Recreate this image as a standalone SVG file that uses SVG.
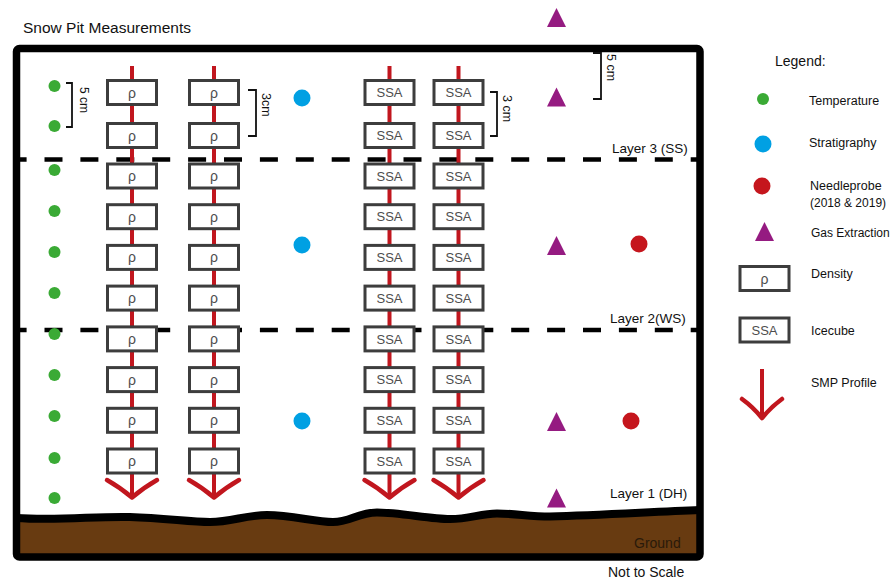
<svg xmlns="http://www.w3.org/2000/svg" width="894" height="580" viewBox="0 0 894 580">
<style>
text{font-family:"Liberation Sans",Arial,sans-serif;fill:#111}
.box{fill:#fff;stroke:#3d3d3d;stroke-width:3}
.bt{font-size:13px;fill:#4d4d4d;text-anchor:middle}
.rho{font-size:14px;fill:#4d4d4d;text-anchor:middle}
.smp{fill:none;stroke:#C1161E;stroke-width:4;stroke-linecap:butt;stroke-linejoin:round}
.arw{fill:none;stroke:#C1161E;stroke-width:4.5;stroke-linecap:round;stroke-linejoin:round}
.tmp{fill:#3AAA35}
.str{fill:#00A0E3}
.ndl{fill:#C5161D}
.gas{fill:#951B81}
.brk{fill:none;stroke:#111;stroke-width:1.8}
.dash{stroke:#000;stroke-width:4.5;stroke-dasharray:18 17.9;stroke-dashoffset:11.4}
.lbl{font-size:13.5px}
.leg{font-size:12.5px}
.cm{font-size:12px}
</style>
<defs>
<g id="rbox"><rect class="box" x="-24.5" y="-12" width="49" height="24"/><text class="rho" x="0" y="5">ρ</text></g>
<g id="sbox"><rect class="box" x="-24.5" y="-12" width="49" height="24"/><text class="bt" x="0" y="4.7">SSA</text></g>
<path id="tri" d="M0,0 L9.5,19 L-9.5,19 Z"/>
</defs>

<g id="ground">
<path fill="#683B11" d="M16,518 C60,521 95,516 130,517 C165,518 190,522 210,522 C232,522 245,515 267,515 C292,515 315,522 333,522 C350,522 358,512.5 377,512.5 C400,512.5 430,519 450,519 C470,519 480,513.5 497,513.5 C515,513.5 530,516.5 550,516.5 C600,515 650,512 700,510 L700,557 L16,557 Z"/>
<path fill="none" stroke="#000" stroke-width="8" d="M16,518 C60,521 95,516 130,517 C165,518 190,522 210,522 C232,522 245,515 267,515 C292,515 315,522 333,522 C350,522 358,512.5 377,512.5 C400,512.5 430,519 450,519 C470,519 480,513.5 497,513.5 C515,513.5 530,516.5 550,516.5 C600,515 650,512 700,510"/>
<text x="634" y="548" style="font-size:14px;fill:#2a1a0a">Ground</text>
</g>

<g id="frame">
<rect x="16.5" y="48.5" width="683.5" height="508.5" rx="3" fill="none" stroke="#000" stroke-width="7.5"/>
</g>

<g id="layers">
<line class="dash" x1="20" y1="159.5" x2="697" y2="159.5"/>
<line class="dash" x1="20" y1="330" x2="697" y2="330"/>
<text class="lbl" x="612" y="153">Layer 3 (SS)</text>
<text class="lbl" x="610" y="323">Layer 2(WS)</text>
<text class="lbl" x="610" y="498">Layer 1 (DH)</text>
</g>

<g id="connectors">
<line class="smp" x1="132" y1="66" x2="132" y2="496"/>
<line class="smp" x1="214" y1="66" x2="214" y2="496"/>
<line class="smp" x1="389.5" y1="66" x2="389.5" y2="496"/>
<line class="smp" x1="458.5" y1="66" x2="458.5" y2="496"/>
<path class="arw" d="M107,480 Q121,488 132,497.5 Q143,488 157,480"/>
<path class="arw" d="M189,480 Q203,488 214,497.5 Q225,488 239,480"/>
<path class="arw" d="M364.5,480 Q378.5,488 389.5,497.5 Q400.5,488 414.5,480"/>
<path class="arw" d="M433.5,480 Q447.5,488 458.5,497.5 Q469.5,488 483.5,480"/>
</g>

<g id="density-col1">
<use href="#rbox" x="132" y="92.5"/><use href="#rbox" x="132" y="135.5"/><use href="#rbox" x="132" y="176"/><use href="#rbox" x="132" y="216.7"/><use href="#rbox" x="132" y="257.4"/><use href="#rbox" x="132" y="298.1"/><use href="#rbox" x="132" y="338.9"/><use href="#rbox" x="132" y="379.6"/><use href="#rbox" x="132" y="420.3"/><use href="#rbox" x="132" y="461"/>
</g>
<g id="density-col2">
<use href="#rbox" x="214" y="92.5"/><use href="#rbox" x="214" y="135.5"/><use href="#rbox" x="214" y="176"/><use href="#rbox" x="214" y="216.7"/><use href="#rbox" x="214" y="257.4"/><use href="#rbox" x="214" y="298.1"/><use href="#rbox" x="214" y="338.9"/><use href="#rbox" x="214" y="379.6"/><use href="#rbox" x="214" y="420.3"/><use href="#rbox" x="214" y="461"/>
</g>
<g id="ssa-col1">
<use href="#sbox" x="389.5" y="92.5"/><use href="#sbox" x="389.5" y="135.5"/><use href="#sbox" x="389.5" y="176"/><use href="#sbox" x="389.5" y="216.7"/><use href="#sbox" x="389.5" y="257.4"/><use href="#sbox" x="389.5" y="298.1"/><use href="#sbox" x="389.5" y="338.9"/><use href="#sbox" x="389.5" y="379.6"/><use href="#sbox" x="389.5" y="420.3"/><use href="#sbox" x="389.5" y="461"/>
</g>
<g id="ssa-col2">
<use href="#sbox" x="458.5" y="92.5"/><use href="#sbox" x="458.5" y="135.5"/><use href="#sbox" x="458.5" y="176"/><use href="#sbox" x="458.5" y="216.7"/><use href="#sbox" x="458.5" y="257.4"/><use href="#sbox" x="458.5" y="298.1"/><use href="#sbox" x="458.5" y="338.9"/><use href="#sbox" x="458.5" y="379.6"/><use href="#sbox" x="458.5" y="420.3"/><use href="#sbox" x="458.5" y="461"/>
</g>

<g id="temperature">
<circle class="tmp" cx="54.5" cy="86" r="6"/><circle class="tmp" cx="54.5" cy="126" r="6"/><circle class="tmp" cx="54.5" cy="170" r="6"/><circle class="tmp" cx="54.5" cy="211" r="6"/><circle class="tmp" cx="54.5" cy="252" r="6"/><circle class="tmp" cx="54.5" cy="293" r="6"/><circle class="tmp" cx="54.5" cy="334" r="6"/><circle class="tmp" cx="54.5" cy="375" r="6"/><circle class="tmp" cx="54.5" cy="416" r="6"/><circle class="tmp" cx="54.5" cy="458" r="6"/><circle class="tmp" cx="54.5" cy="498" r="6"/>
</g>
<g id="stratigraphy">
<circle class="str" cx="302" cy="98" r="8.5"/><circle class="str" cx="302" cy="245" r="8.5"/><circle class="str" cx="302" cy="421" r="8.5"/>
</g>
<g id="needleprobe">
<circle class="ndl" cx="639" cy="244" r="8.5"/><circle class="ndl" cx="631" cy="421" r="8.5"/>
</g>
<g id="gas">
<use href="#tri" class="gas" x="556.5" y="8"/><use href="#tri" class="gas" x="556.5" y="87.5"/><use href="#tri" class="gas" x="556.5" y="236"/><use href="#tri" class="gas" x="556.5" y="412"/><use href="#tri" class="gas" x="556.5" y="488.5"/>
</g>

<g id="brackets">
<path class="brk" d="M66,83 H72 V127 H66"/>
<text class="cm" transform="translate(80,87) rotate(90)">5 cm</text>
<path class="brk" d="M248,90 H256 V136 H248"/>
<text class="cm" transform="translate(262,93) rotate(90)" style="font-size:12.5px">3cm</text>
<path class="brk" d="M490,92 H497 V136 H490"/>
<text class="cm" transform="translate(503,95) rotate(90)" style="font-size:12.5px">3 cm</text>
<path class="brk" d="M593,53 H601 V99 H593"/>
<text class="cm" transform="translate(607,54) rotate(90)" style="font-size:12.5px">5 cm</text>
</g>

<text x="23" y="33" style="font-size:15.5px">Snow Pit Measurements</text>
<text x="608" y="577" style="font-size:14px">Not to Scale</text>

<g id="legend">
<text x="775" y="66" style="font-size:14px">Legend:</text>
<circle class="tmp" cx="763" cy="99" r="6"/>
<text class="leg" x="809" y="105">Temperature</text>
<circle class="str" cx="763" cy="144" r="8.5"/>
<text class="leg" x="809" y="147">Stratigraphy</text>
<circle class="ndl" cx="762" cy="186" r="8.5"/>
<text class="leg" x="810" y="190">Needleprobe</text>
<text class="leg" x="810" y="207" style="font-size:12px">(2018 &amp; 2019)</text>
<use href="#tri" class="gas" x="764.5" y="222"/>
<text class="leg" x="811" y="237" style="font-size:12px">Gas Extraction</text>
<use href="#rbox" x="764.5" y="278.5"/>
<text class="leg" x="811" y="278">Density</text>
<use href="#sbox" x="764.5" y="330"/>
<text class="leg" x="811" y="335">Icecube</text>
<line class="smp" x1="762" y1="369" x2="762" y2="417"/>
<path class="arw" d="M742,399 Q753,407 762,418 Q771,407 782,399"/>
<text class="leg" x="811" y="387">SMP Profile</text>
</g>
</svg>
